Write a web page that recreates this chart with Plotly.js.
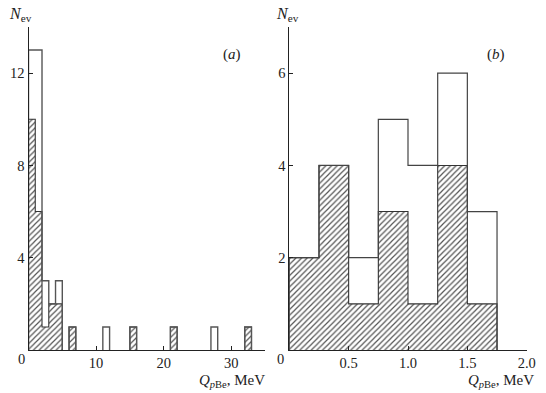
<!DOCTYPE html>
<html>
<head>
<meta charset="utf-8">
<script src="https://cdn.plot.ly/plotly-3.0.1.min.js"></script>
<style>html,body{margin:0;padding:0;background:#fff}</style>
</head>
<body>
<div id="chart" style="width:546px;height:393px"></div>
<script>
// panel (a): 1 MeV bins, only the non-empty ones
const leftA  = [0, 1, 2, 3, 4, 6, 11, 15, 21, 27, 32];
const totalA = [13, 13, 3, 2, 3, 1, 1, 1, 1, 1, 1];
const hatchA = [10, 6, 1, 2, 2, 1, 0, 1, 1, 0, 1];
const widthA = 1;

// panel (b): 0.25 MeV bins
const leftB  = [0, 0.25, 0.5, 0.75, 1.0, 1.25, 1.5];
const totalB = [2, 4, 2, 5, 4, 6, 3];
const hatchB = [2, 4, 1, 3, 1, 4, 1];
const widthB = 0.25;

const ticksAx = [10, 20, 30];
const ticksAy = [4, 8, 12, 14];
const tickTextAy = ['4', '8', '12', ''];
const ticksBx = [0.5, 1.0, 1.5, 2.0];
const tickTextBx = ['0.5', '1.0', '1.5', '2.0'];
const ticksBy = [2, 4, 6];

const W = 546, H = 393;
const serif = 'Liberation Serif';
const ink = '#222';

// outline of a histogram: one polyline per run of touching bins
function stepLine(left, counts, w) {
  let xs = [], ys = [];
  let prevEnd = null;
  left.forEach((x0, i) => {
    let c = counts[i];
    if (c === 0) return;
    if (prevEnd !== x0) {
      if (prevEnd !== null) { xs.push(prevEnd, null); ys.push(0, null); }
      xs.push(x0); ys.push(0);
    }
    xs.push(x0, x0 + w); ys.push(c, c);
    prevEnd = x0 + w;
  });
  xs.push(prevEnd); ys.push(0);
  return {xs, ys};
}

function hatchBars(left, counts, w, xa, ya) {
  return {
    type: 'bar', xaxis: xa, yaxis: ya,
    x: left.map(v => v + w / 2), y: counts, width: w,
    marker: {
      color: 'white', line: {width: 0},
      pattern: {shape: '/', fgcolor: '#555', bgcolor: 'white', size: 4, solidity: 0.3}
    },
    hoverinfo: 'skip'
  };
}

function outline(left, counts, w, xa, ya, color, lw) {
  let s = stepLine(left, counts, w);
  return {
    type: 'scatter', mode: 'lines', xaxis: xa, yaxis: ya,
    x: s.xs, y: s.ys, connectgaps: false,
    line: {color: color, width: lw}, hoverinfo: 'skip'
  };
}

const data = [
  hatchBars(leftA, hatchA, widthA, 'x', 'y'),
  outline(leftA, hatchA, widthA, 'x', 'y', '#333', 1.1),
  outline(leftA, totalA, widthA, 'x', 'y', '#555', 1.4),
  hatchBars(leftB, hatchB, widthB, 'x2', 'y2'),
  outline(leftB, hatchB, widthB, 'x2', 'y2', '#333', 1.1),
  outline(leftB, totalB, widthB, 'x2', 'y2', '#444', 1.2)
];

function px(x, y) { return {x: x / W, y: 1 - y / H}; }
function note(text, x, y, xanchor, size) {
  let p = px(x, y);
  return {
    text: text, xref: 'paper', yref: 'paper', x: p.x, y: p.y,
    xanchor: xanchor || 'center', yanchor: 'middle', showarrow: false,
    font: {family: serif, size: size || 14, color: ink}
  };
}

const axisBase = {
  showline: true, linecolor: ink, linewidth: 1,
  ticks: 'inside', ticklen: 4, tickcolor: ink, tickwidth: 1,
  showgrid: false, zeroline: false, fixedrange: true,
  tickfont: {family: serif, size: 14.5, color: ink}
};

const yDom = [1 - 350 / H, 1 - 27 / H];

const layout = {
  width: W, height: H,
  margin: {l: 0, r: 0, t: 0, b: 0},
  paper_bgcolor: 'white', plot_bgcolor: 'white',
  showlegend: false, barmode: 'overlay', bargap: 0,
  xaxis: Object.assign({}, axisBase, {
    domain: [28.5 / W, 265 / W], range: [0, 35], anchor: 'y',
    tickvals: ticksAx
  }),
  yaxis: Object.assign({}, axisBase, {
    domain: yDom, range: [0, 14], anchor: 'x',
    tickvals: ticksAy, ticktext: tickTextAy
  }),
  xaxis2: Object.assign({}, axisBase, {
    domain: [289.3 / W, 526.7 / W], range: [0, 2], anchor: 'y2',
    tickvals: ticksBx, ticktext: tickTextBx
  }),
  yaxis2: Object.assign({}, axisBase, {
    domain: yDom, range: [0, 7], anchor: 'x2',
    tickvals: ticksBy
  }),
  annotations: [
    note('<i>N</i><sub>ev</sub>', 7, 15, 'left', 16),
    note('<i>N</i><sub>ev</sub>', 274, 15, 'left', 16),
    note('(<i>a</i>)', 232, 54, 'center', 15),
    note('(<i>b</i>)', 496, 54, 'center', 15),
    note('0', 21, 359, 'center', 14.5),
    note('0', 280, 359, 'center', 14.5),
    note('<i>Q</i><sub><i>p</i>Be</sub>, MeV', 267, 381, 'right', 15),
    note('<i>Q</i><sub><i>p</i>Be</sub>, MeV', 536, 381, 'right', 15)
  ]
};

Plotly.newPlot('chart', data, layout, {displayModeBar: false, staticPlot: true});
</script>
</body>
</html>
